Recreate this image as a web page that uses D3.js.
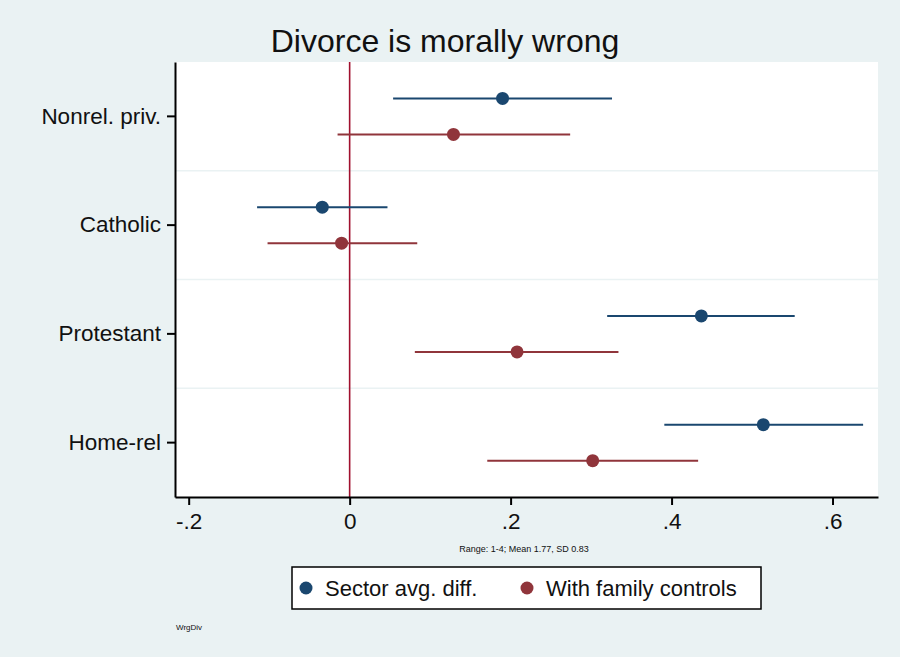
<!DOCTYPE html>
<html>
<head>
<meta charset="utf-8">
<script src="https://cdn.jsdelivr.net/npm/d3@7"></script>
<style>
  body { margin: 0; background: #eaf2f3; }
  svg { display: block; font-family: "Liberation Sans", Arial, sans-serif; }
</style>
</head>
<body>
<svg id="chart" width="900" height="657"></svg>
<script>
const WIDTH = 900
const HEIGHT = 657

// categories top to bottom
const categories = ['Nonrel. priv.', 'Catholic', 'Protestant', 'Home-rel']
const seriesNames = ['Sector avg. diff.', 'With family controls']
const seriesColors = ['#1a476f', '#90353b']

// point estimates and confidence bounds, per category
const sectorEst = [0.190, -0.034, 0.437, 0.514]
const sectorLo = [0.054, -0.115, 0.320, 0.391]
const sectorHi = [0.326, 0.047, 0.553, 0.638]

const familyEst = [0.129, -0.010, 0.208, 0.302]
const familyLo = [-0.015, -0.102, 0.081, 0.171]
const familyHi = [0.274, 0.084, 0.334, 0.433]

const xTicks = [-0.2, 0, 0.2, 0.4, 0.6]
const xTickLabels = ['-.2', '0', '.2', '.4', '.6']

let padding = { left: 175, right: 22, top: 62, bottom: 160 };

const svg = d3.select('#chart');

svg.append('rect')
    .attr('width', WIDTH)
    .attr('height', HEIGHT)
    .attr('fill', '#eaf2f3');

const xAxis = d3.scaleLinear()
    .domain([-0.217, 0.6565])
    .range([padding.left, WIDTH - padding.right]);

const yAxis = d3.scaleBand()
    .domain(categories)
    .range([padding.top, HEIGHT - padding.bottom]);

// offset of each series inside a category band
const ySeries = d3.scaleBand()
    .domain(seriesNames)
    .range([-36, 36]);

// plot region
svg.append('rect')
    .attr('x', padding.left)
    .attr('y', padding.top)
    .attr('width', WIDTH - padding.right - padding.left)
    .attr('height', HEIGHT - padding.bottom - padding.top)
    .attr('fill', 'white');

// grid lines between categories
svg.append('g')
    .selectAll('line')
    .data(categories.slice(1))
    .join('line')
    .attr('x1', padding.left)
    .attr('x2', WIDTH - padding.right)
    .attr('y1', d => yAxis(d))
    .attr('y2', d => yAxis(d))
    .attr('stroke', '#eaf2f3')
    .attr('stroke-width', 1.5);

// reference line at 0
svg.append('line')
    .attr('x1', xAxis(0))
    .attr('x2', xAxis(0))
    .attr('y1', padding.top)
    .attr('y2', HEIGHT - padding.bottom)
    .attr('stroke', '#a0102e')
    .attr('stroke-width', 1.6);

let rows = [];
categories.forEach((c, i) => {
    rows.push({ cat: c, s: 0, est: sectorEst[i], lo: sectorLo[i], hi: sectorHi[i] });
    rows.push({ cat: c, s: 1, est: familyEst[i], lo: familyLo[i], hi: familyHi[i] });
});

const rowY = d => yAxis(d.cat) + yAxis.bandwidth() / 2 + ySeries(seriesNames[d.s]) + ySeries.bandwidth() / 2;

svg.append('g')
    .selectAll('line')
    .data(rows)
    .join('line')
    .attr('x1', d => xAxis(d.lo))
    .attr('x2', d => xAxis(d.hi))
    .attr('y1', rowY)
    .attr('y2', rowY)
    .attr('stroke', d => seriesColors[d.s])
    .attr('stroke-width', 2);

svg.append('g')
    .selectAll('circle')
    .data(rows)
    .join('circle')
    .attr('cx', d => xAxis(d.est))
    .attr('cy', rowY)
    .attr('r', 6.5)
    .attr('fill', d => seriesColors[d.s]);

// y axis
const gy = svg.append('g')
    .attr('transform', `translate(${padding.left},0)`)
    .call(d3.axisLeft(yAxis).tickSize(8).tickPadding(6).tickSizeOuter(0));
gy.select('.domain').attr('stroke', 'black').attr('stroke-width', 2);
gy.selectAll('.tick line').attr('stroke', 'black').attr('stroke-width', 2);
gy.selectAll('text').attr('font-size', 22.5).attr('fill', '#111')
    .attr('font-family', '"Liberation Sans", Arial, sans-serif');

// x axis
const gx = svg.append('g')
    .attr('transform', `translate(0, ${HEIGHT - padding.bottom})`)
    .call(d3.axisBottom(xAxis).tickValues(xTicks).tickFormat((d, i) => xTickLabels[i])
        .tickSize(8).tickPadding(8).tickSizeOuter(0));
gx.select('.domain').attr('stroke', 'black').attr('stroke-width', 2);
gx.selectAll('.tick line').attr('stroke', 'black').attr('stroke-width', 2);
gx.selectAll('text').attr('font-size', 22.5).attr('fill', '#111')
    .attr('font-family', '"Liberation Sans", Arial, sans-serif');

// title
svg.append('text')
    .text('Divorce is morally wrong')
    .attr('x', 445)
    .attr('y', 52)
    .attr('text-anchor', 'middle')
    .attr('font-size', 32)
    .attr('fill', '#111');

// note under axis
svg.append('text')
    .text('Range: 1-4; Mean 1.77, SD 0.83')
    .attr('x', 524)
    .attr('y', 552)
    .attr('text-anchor', 'middle')
    .attr('font-size', 9)
    .attr('fill', '#111');

// legend
const legend = svg.append('g');
legend.append('rect')
    .attr('x', 292)
    .attr('y', 567)
    .attr('width', 469)
    .attr('height', 42)
    .attr('fill', 'white')
    .attr('stroke', 'black')
    .attr('stroke-width', 1.5);

const legendX = [306, 527];
legend.selectAll('circle')
    .data(seriesNames)
    .join('circle')
    .attr('cx', (d, i) => legendX[i])
    .attr('cy', 588)
    .attr('r', 6.5)
    .attr('fill', (d, i) => seriesColors[i]);
legend.selectAll('text')
    .data(seriesNames)
    .join('text')
    .text(d => d)
    .attr('x', (d, i) => legendX[i] + 19)
    .attr('y', 596)
    .attr('font-size', 22)
    .attr('fill', '#111');

svg.append('text')
    .text('WrgDiv')
    .attr('x', 176)
    .attr('y', 630)
    .attr('font-size', 8)
    .attr('fill', '#111');
</script>
</body>
</html>
